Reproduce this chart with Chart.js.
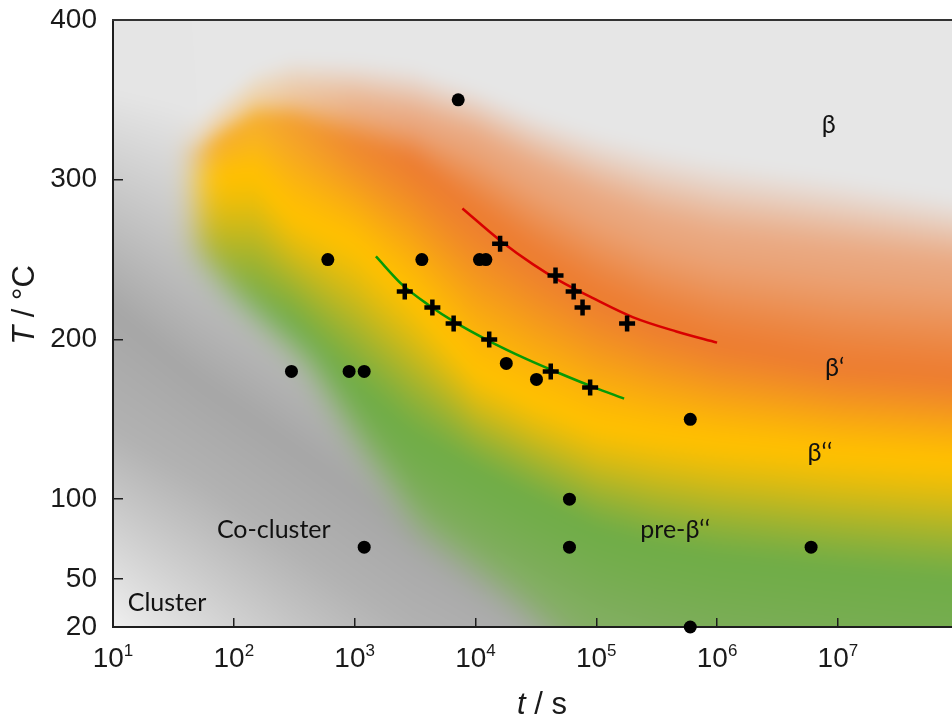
<!DOCTYPE html>
<html lang="en">
<head>
<meta charset="utf-8">
<title>TTT diagram</title>
<script src="https://cdn.jsdelivr.net/npm/chart.js@4.4.1/dist/chart.umd.min.js"></script>
<style>
  html, body { margin: 0; padding: 0; background: #ffffff; }
  canvas { display: block; }
</style>
</head>
<body>
<canvas id="ttt" width="952" height="720"></canvas>
<script>
// ageing states checked by experiment (t in s, T in °C)
const dotTimes = [7200, 600, 3600, 10800, 12200, 300, 900, 1200, 18000, 32000, 600000, 60000, 60000, 1200, 6000000, 600000]
const dotTemps = [350, 250, 250, 250, 250, 180, 180, 180, 185, 175, 150, 100, 70, 70, 70, 20]

// peak hardness times, beta' and beta''
const upperTimes = [16000, 46000, 65000, 77000, 180000]
const upperTemps = [260, 240, 230, 220, 210]
const lowerTimes = [2600, 4400, 6600, 13000, 42000, 89000]
const lowerTemps = [230, 220, 210, 200, 180, 170]

// fitted curves through the peak times
const upperFitTimes = [7800, 16000, 30000, 49000, 93000, 200000, 460000, 1000000]
const upperFitTemps = [282, 262, 247, 237, 226, 214, 205, 198]
const lowerFitTimes = [1500, 2500, 4200, 6700, 13000, 26000, 49000, 96000, 170000]
const lowerFitTemps = [252, 234, 221, 211, 199, 188, 179, 170, 163]

const timeTicks = [1e1, 1e2, 1e3, 1e4, 1e5, 1e6, 1e7]
const tempTicks = [20, 50, 100, 200, 300, 400]

// phase field: temperature of each band centre at bandTimes
const bandTimes = [10, 50, 150, 300, 1000, 3000, 1e4, 3e4, 1e5, 3e5, 1e6, 1e7, 1e8]
const betaEdge = [340, 340, 370, 378, 376, 372, 359, 344, 331, 322, 314, 303, 290]
const betaFringe = [328, 328, 353, 353, 347, 337, 325, 306, 287, 272, 262, 253, 245]
const betaPrimeBand = [316, 316, 337, 336, 322, 311, 280, 253, 228, 211, 198, 184, 177]
const betaDPBand = [300, 300, 303, 278, 259, 226, 180, 162, 146, 140, 135, 128, 123]
const preBetaBand = [225, 225, 218, 209, 171, 140, 118, 100, 81, 71, 64, 56, 49]
const preBetaTail = [150, 150, 137, 125, 100, 62, 37, 12, -13, -26, -38, -51, -63]
const clusterTop = [356, 344, 331, 319, 294, 269, 244, 219, 193, 175, 162, 150, 137]
const coClusterCore = [219, 175, 150, 134, 106, 81, 56, 34, 12, -7, -26, -57, -88]
const coClusterBase = [143, 112, 87, 71, 43, 18, -1, -19, -38, -57, -76, -107, -138]
const clusterCorner = [-1, -51, -88, -113, -151, -182, -214, -245, -276, -307, -339, -401, -464]
// outline of the precipitation region
const regionTimes = [40, 50, 50, 96, 410, 1100, 3400, 21000, 49000, 155000, 1.4e9, 1.4e9]
const regionTemps = [450, 350, 256, 230, 186, 134, 81, 37, 12, -63, -63, 450]

const phaseNames = ['β', 'β‘', 'β‘‘', 'pre-β‘‘', 'Co-cluster', 'Cluster']
const phaseTimes = [8.4e6, 9.4e6, 7.1e6, 4.5e5, 214, 28]
const phaseTemps = [334, 182, 129, 81, 81, 35]

const pts = (xs, ys) => xs.map((x, i) => ({ x: x, y: ys[i] }))

const C = {
  grey: [230, 230, 230],
  peach: [234, 168, 128], beige: [238, 212, 175],
  orange: [237, 125, 49], amber: [246, 175, 45],
  yellow: [255, 192, 0],
  green: [112, 173, 71],
  moss: [140, 174, 112],
  light: [229, 229, 229], dark: [166, 166, 166], dark2: [178, 178, 178], white: [250, 250, 250]
}
const PAD = 30
let field = null

function lineAt(line, X) {
  let i = 1
  while (i < line.length - 1 && X > line[i][0]) i++
  const [x0, y0] = line[i - 1], [x1, y1] = line[i]
  return y0 + (y1 - y0) * (X - x0) / (x1 - x0)
}

function mix(a, b, f) {
  return [a[0] + (b[0] - a[0]) * f, a[1] + (b[1] - a[1]) * f, a[2] + (b[2] - a[2]) * f]
}

// colour between stops; smooth=true holds each colour a little longer round its centre
function ramp(stops, Y, smooth) {
  if (Y <= stops[0].y) return stops[0].c
  for (let i = 1; i < stops.length; i++) {
    if (Y <= stops[i].y) {
      let f = (Y - stops[i - 1].y) / (stops[i].y - stops[i - 1].y)
      if (smooth) f = 0.5 * f + 0.5 * f * f * (3 - 2 * f)
      return mix(stops[i - 1].c, stops[i].c, f)
    }
  }
  return stops[stops.length - 1].c
}

function paintField(chart) {
  const { chartArea: a, scales: { x: xs, y: ys } } = chart
  const left = Math.round(a.left) - PAD, top = Math.round(a.top) - PAD
  const w = Math.round(a.right - a.left) + 2 * PAD, h = Math.round(a.bottom - a.top) + 2 * PAD
  const px = bandTimes.map(t => xs.getPixelForValue(t) - left)
  const line = temps => temps.map((T, i) => [px[i], ys.getPixelForValue(T) - top])
  // how far the warm colours have developed (pale at the short-time edge)
  const heat = [0, 0, 0, 0.3, 0.75, 1, 1, 1, 1, 1, 1, 1, 1].map((s, i) => [px[i], s])
  const L = {
    edge: line(betaEdge), fringe: line(betaFringe), bp: line(betaPrimeBand),
    bdp: line(betaDPBand), pre: line(preBetaBand), tail: line(preBetaTail),
    top: line(clusterTop), core: line(coClusterCore), base: line(coClusterBase), corner: line(clusterCorner)
  }

  const mc = document.createElement('canvas')
  mc.width = w; mc.height = h
  const m = mc.getContext('2d')
  m.filter = 'blur(14px)'
  m.fillStyle = '#fff'
  m.beginPath()
  regionTimes.forEach((t, i) => {
    const X = xs.getPixelForValue(t) - left, Y = ys.getPixelForValue(regionTemps[i]) - top
    i ? m.lineTo(X, Y) : m.moveTo(X, Y)
  })
  m.closePath()
  m.fill()
  const mask = m.getImageData(0, 0, w, h).data

  const out = document.createElement('canvas')
  out.width = w; out.height = h
  const o = out.getContext('2d')
  const img = o.createImageData(w, h)
  const d = img.data
  for (let X = 0; X < w; X++) {
    const s = Math.min(1, Math.max(0, lineAt(heat, X)))
    const warm = [
      { y: lineAt(L.edge, X), c: C.grey },
      { y: lineAt(L.fringe, X), c: mix(C.beige, C.peach, s) },
      { y: lineAt(L.bp, X), c: mix(C.amber, C.orange, s) },
      { y: lineAt(L.bdp, X), c: C.yellow },
      { y: lineAt(L.pre, X), c: C.green },
      { y: lineAt(L.tail, X), c: C.moss }
    ]
    const cold = [
      { y: lineAt(L.top, X), c: C.light },
      { y: lineAt(L.core, X), c: C.dark },
      { y: lineAt(L.base, X), c: C.dark2 },
      { y: lineAt(L.corner, X), c: C.white }
    ]
    for (let Y = 0; Y < h; Y++) {
      const k = (Y * w + X) * 4
      const f = mask[k + 3] / 255
      const c = mix(ramp(cold, Y, false), ramp(warm, Y, true), f)
      d[k] = c[0]; d[k + 1] = c[1]; d[k + 2] = c[2]; d[k + 3] = 255
    }
  }
  o.putImageData(img, 0, 0)
  return { canvas: out, left: left, top: top }
}

const phaseField = {
  id: 'phaseField',
  beforeDraw(chart) {
    const a = chart.chartArea
    const key = [a.left, a.top, a.right, a.bottom].join()
    if (!field || field.key !== key) field = Object.assign({ key: key }, paintField(chart))
    const ctx = chart.ctx
    ctx.save()
    ctx.beginPath()
    ctx.rect(a.left, a.top, a.right - a.left, a.bottom - a.top)
    ctx.clip()
    ctx.filter = 'blur(7px)'
    ctx.drawImage(field.canvas, field.left, field.top)
    ctx.restore()
  },
  afterDraw(chart) {
    const { ctx, chartArea: a, scales: { x: xs, y: ys } } = chart
    ctx.save()
    // top frame
    ctx.strokeStyle = '#333'
    ctx.lineWidth = 2
    ctx.beginPath()
    ctx.moveTo(a.left - 1, a.top)
    ctx.lineTo(a.right, a.top)
    ctx.stroke()

    ctx.fillStyle = '#1a1a1a'
    ctx.textBaseline = 'alphabetic'
    ctx.textAlign = 'left'
    // decade labels 10^n
    timeTicks.forEach(v => {
      const base = '10', exp = String(Math.round(Math.log10(v)))
      ctx.font = '28px "Liberation Sans", Arial, sans-serif'
      const wb = ctx.measureText(base).width
      ctx.font = '17px "Liberation Sans", Arial, sans-serif'
      const we = ctx.measureText(exp).width
      const x0 = xs.getPixelForValue(v) - (wb + we) / 2
      ctx.font = '28px "Liberation Sans", Arial, sans-serif'
      ctx.fillText(base, x0, 667)
      ctx.font = '17px "Liberation Sans", Arial, sans-serif'
      ctx.fillText(exp, x0 + wb, 656)
    })

    // axis titles: italic symbol, upright unit
    const title = (sym, unit, x, y, rot) => {
      ctx.save()
      ctx.translate(x, y)
      ctx.rotate(rot)
      ctx.font = 'italic 31px "Liberation Sans", Arial, sans-serif'
      const ws = ctx.measureText(sym).width
      ctx.font = '31px "Liberation Sans", Arial, sans-serif'
      const wu = ctx.measureText(unit).width
      const x0 = -(ws + wu) / 2
      ctx.font = 'italic 31px "Liberation Sans", Arial, sans-serif'
      ctx.fillText(sym, x0, 0)
      ctx.font = '31px "Liberation Sans", Arial, sans-serif'
      ctx.fillText(unit, x0 + ws, 0)
      ctx.restore()
    }
    title('t', ' / s', 542, 714, 0)
    title('T', ' / °C', 34, 305, -Math.PI / 2)

    // phase names
    ctx.font = '25px Lato, "Open Sans", sans-serif'
    ctx.textAlign = 'center'
    ctx.textBaseline = 'middle'
    ctx.fillStyle = '#111'
    phaseNames.forEach((name, i) => {
      ctx.fillText(name, xs.getPixelForValue(phaseTimes[i]), ys.getPixelForValue(phaseTemps[i]))
    })
    ctx.restore()
  }
}

new Chart(document.getElementById('ttt'), {
  type: 'scatter',
  data: {
    datasets: [
      {
        label: 'states',
        data: pts(dotTimes, dotTemps),
        pointStyle: 'circle',
        pointRadius: 6.5,
        backgroundColor: '#000',
        borderWidth: 0,
        clip: false,
        order: 0
      },
      {
        label: "beta' peak",
        data: pts(upperTimes, upperTemps),
        pointStyle: 'cross',
        pointRadius: 8,
        borderColor: '#000',
        borderWidth: 4.5,
        order: 0
      },
      {
        label: "beta'' peak",
        data: pts(lowerTimes, lowerTemps),
        pointStyle: 'cross',
        pointRadius: 8,
        borderColor: '#000',
        borderWidth: 4.5,
        order: 0
      },
      {
        type: 'line',
        label: "beta' fit",
        data: pts(upperFitTimes, upperFitTemps),
        borderColor: '#d80000',
        borderWidth: 2.5,
        pointRadius: 0,
        cubicInterpolationMode: 'monotone',
        order: 1
      },
      {
        type: 'line',
        label: "beta'' fit",
        data: pts(lowerFitTimes, lowerFitTemps),
        borderColor: '#069a06',
        borderWidth: 2.5,
        pointRadius: 0,
        cubicInterpolationMode: 'monotone',
        order: 1
      }
    ]
  },
  options: {
    responsive: false,
    animation: false,
    events: [],
    layout: { autoPadding: false, padding: { top: 20, left: 0, right: 0, bottom: 0 } },
    plugins: { legend: { display: false }, tooltip: { enabled: false } },
    scales: {
      x: {
        type: 'logarithmic',
        min: 10,
        max: 8.8e7,
        afterBuildTicks: s => { s.ticks = timeTicks.map(v => ({ value: v })) },
        afterFit: s => { s.height = 93; s.paddingLeft = 0; s.paddingRight = 0 },
        ticks: { display: false },
        grid: { drawOnChartArea: false, drawTicks: true, tickLength: -9, color: '#1e1e1e', lineWidth: 1.5 },
        border: { display: true, color: '#1e1e1e', width: 2 }
      },
      y: {
        type: 'linear',
        min: 20,
        max: 400,
        afterBuildTicks: s => { s.ticks = tempTicks.map(v => ({ value: v })) },
        afterFit: s => { s.width = 113; s.paddingTop = 0; s.paddingBottom = 0 },
        ticks: {
          padding: 26,
          color: '#1a1a1a',
          font: { family: '"Liberation Sans", Arial, sans-serif', size: 28 }
        },
        grid: { drawOnChartArea: false, drawTicks: true, tickLength: -10, color: '#1e1e1e', lineWidth: 1.5 },
        border: { display: true, color: '#1e1e1e', width: 2 }
      }
    }
  },
  plugins: [phaseField]
})
</script>
</body>
</html>
